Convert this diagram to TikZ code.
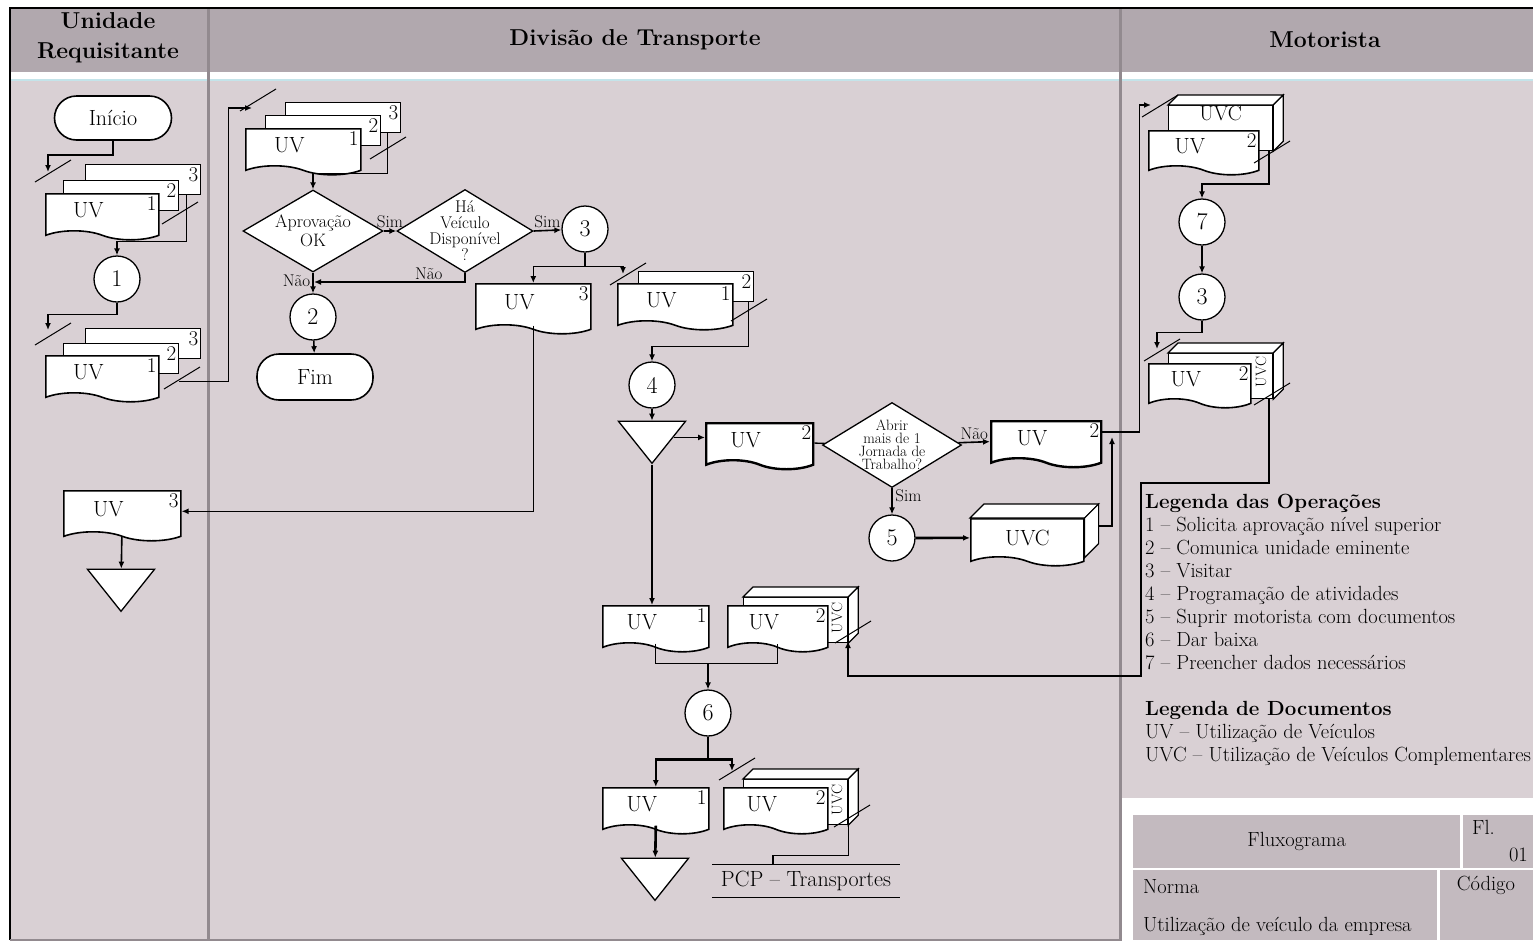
\documentclass[tikz,border=0pt]{standalone}
\usepackage{fontspec}
\usepackage{tikz}
\usetikzlibrary{shapes.geometric,shapes.symbols,arrows.meta}
\definecolor{bodybg}{HTML}{D9D0D4}
\definecolor{headbg}{HTML}{B1A8AE}
\definecolor{lanesep}{HTML}{928A8F}
\definecolor{cellbg}{HTML}{C3BABF}
\definecolor{stripe}{HTML}{C4E4EA}
\newcommand\fs[1]{\fontsize{#1}{#1}\selectfont}
% line-break mark on a flow line
\newcommand\brk[1]{\draw[line width=1pt] (#1) ++(-18,11) -- ++(36,-22);}
% top and side faces of a card box
\newcommand\boxfaces[2]{%
  \draw[line width=1.2pt, fill=white] (#1.north west) -- ++(#2,-#2) -- ([shift={(#2,-#2)}]#1.north east) -- (#1.north east) -- cycle;
  \draw[line width=1.2pt, fill=white] (#1.north east) -- ++(#2,-#2) -- ([shift={(#2,-#2)}]#1.south east) -- (#1.south east) -- cycle;}

\begin{document}
\begin{tikzpicture}[x=1pt, y=-1pt,
  lanehead/.style={font=\bfseries\fontsize{23}{30}\selectfont, align=center},
  doc/.style 2 args={tape, tape bend top=none, tape bend bottom=out and in, tape bend height=9pt,
     draw, fill=white, line width=1.6pt, inner sep=0pt, minimum width=113pt, minimum height=46pt,
     anchor=north west, font=\fs{22},
     label={[font=\fs{22}, xshift=-14pt, yshift=2pt]center:#1},
     label={[font=\fs{21}, anchor=north east, inner sep=3pt]north east:#2}},
  backdoc/.style={draw, fill=white, line width=1.4pt, inner sep=0pt, minimum width=115pt,
     minimum height=30pt, anchor=north west,
     label={[font=\fs{21}, anchor=north east, inner sep=3pt]north east:#1}},
  uvcbox/.style={draw, fill=white, line width=1.2pt, inner sep=0pt,
     minimum width=104pt, minimum height=45pt, anchor=north west},
  rotlbl/.style={font=\fs{15}, rotate=90, inner sep=0pt},
  term/.style={rectangle, rounded corners=22pt, draw, fill=white, line width=1.6pt,
     minimum width=117pt, minimum height=44pt, font=\fs{22}},
  opcirc/.style={circle, draw, fill=white, line width=1.3pt, minimum size=46pt,
     inner sep=0pt, font=\fs{24}},
  decis/.style={diamond, draw, fill=white, line width=1.3pt, inner sep=0pt},
  dtext/.style={align=center, inner sep=0pt},
  arch/.style={isosceles triangle, isosceles triangle stretches, shape border rotate=270,
     draw, fill=white, line width=1.3pt, inner sep=0pt, minimum width=67pt, minimum height=42pt},
  lbl/.style={font=\fs{17}, inner sep=2pt},
  cell/.style={fill=cellbg, anchor=north west, inner sep=0pt, font=\fs{20.5}},
  cellt/.style={font=\fs{20.5}, inner sep=0pt},
  legend/.style={font=\fontsize{20.5}{23}\selectfont, align=left, inner sep=0pt},
  pcp/.style={font=\fs{22}, minimum width=187pt, minimum height=33pt, inner sep=0pt},
  arr/.style={-{Latex[length=7pt,width=6pt]}, line width=1.6pt},
  arrthick/.style={arr, line width=2.6pt},
  flow/.style={line width=1.3pt}
]
\useasboundingbox (0,0) rectangle (1533,943);

% lanes
\fill[bodybg] (10,8) rectangle (1533,940);
\fill[headbg] (10,8) rectangle (1533,72);
\fill[white] (10,72) rectangle (1533,79);
\draw[stripe, line width=2pt] (10,80) -- (1533,80);
\fill[white] (1122,798) rectangle (1533,943);
\draw[lanesep, line width=3pt] (208,8) -- (208,940);
\draw[lanesep, line width=3pt] (1120,8) -- (1120,940);
\draw[line width=2pt] (10,940) -- (10,8) -- (1533,8);
\draw[lanesep, line width=2pt] (10,940) -- (1122,940);

\node[lanehead] (hUni) at (108,38) {Unidade\\Requisitante};
\node[lanehead] (hDiv) at (635,40) {Divisão de Transporte};
\node[lanehead] (hMot) at (1325,40) {Motorista};

% Unidade Requisitante
\node[term] (ini) at (113,118) {Início};
\node[backdoc=3] (s1c) at (85,164) {};
\node[backdoc=2] (s1b) at (63,180) {};
\node[doc={UV}{1}] (s1a) at (45,193) {};
\node[opcirc] (c1) at (117,279) {1};
\node[backdoc=3] (s2c) at (85,328) {};
\node[backdoc=2] (s2b) at (63,343) {};
\node[doc={UV}{1}] (s2a) at (45,355) {};
\node[doc={UV}{3}, minimum width=117pt, minimum height=50pt] (uvr3) at (63,490) {};
\node[arch, anchor=apex] (tri2) at (121,613) {};
\coordinate (in1) at (48,172);
\coordinate (in2) at (48,330);
\coordinate (in3) at (252,108);

% Divisao de Transporte
\node[backdoc=3] (s3c) at (285,102) {};
\node[backdoc=2] (s3b) at (265,115) {};
\node[doc={UV}{1}, minimum width=115pt] (s3a) at (245,128) {};
\node[decis, minimum width=140pt, minimum height=82pt,
  label={[dtext, font=\fontsize{18}{19}\selectfont]center:{Aprovação\\OK}}] (dia1) at (313,231) {};
\node[decis, minimum width=136pt, minimum height=83pt,
  label={[dtext, font=\fontsize{17}{16}\selectfont]center:{Há\\Veículo\\Disponível\\?}}] (dia2) at (465,231) {};
\node[opcirc] (c3) at (585,229) {3};
\node[opcirc] (c2) at (313,317) {2};
\node[term, minimum width=116pt, minimum height=46pt] (fim) at (315,377) {Fim};
\node[doc={UV}{3}, minimum width=115pt, minimum height=50pt] (uv3) at (475,283) {};
\node[backdoc=2] (s4b) at (638,271) {};
\node[doc={UV}{1}, minimum width=115pt] (s4a) at (617,283) {};
\node[opcirc] (c4) at (652,385) {4};
\node[arch, anchor=apex] (tri1) at (652,465) {};
\node[doc={UV}{2}, line width=2.4pt, minimum width=107pt] (uv2a) at (705,422) {};
\node[decis, minimum width=139pt, minimum height=85pt,
  label={[dtext, font=\fontsize{15}{13}\selectfont]center:{Abrir\\mais de 1\\Jornada de\\Trabalho?}}] (dia3) at (892,445) {};
\node[doc={UV}{2}, line width=2.4pt, minimum width=110pt] (uv2b) at (990,420) {};
\node[opcirc] (c5) at (892,538) {5};
\node[doc={}{}, minimum width=113pt, minimum height=47pt] (uvc1) at (970,518) {UVC};
\boxfaces{uvc1}{14}

\node[doc={UV}{1}, minimum width=106pt] (uv1m) at (602,605) {};
\node[uvcbox] (uvcm) at (743,597) {};
\boxfaces{uvcm}{10}
\node[doc={UV}{2}, minimum width=100pt] (uv2m) at (727,605) {};
\node[rotlbl] (uvcmL) at (837,618) {UVC};
\node[opcirc] (c6) at (708,713) {6};
\node[doc={UV}{1}, minimum width=106pt] (uv1b) at (602,787) {};
\node[uvcbox] (uvcb) at (743,779) {};
\boxfaces{uvcb}{10}
\node[doc={UV}{2}, minimum width=104pt] (uv2c) at (723,787) {};
\node[rotlbl] (uvcbL) at (837,800) {UVC};
\node[arch, anchor=apex] (tri3) at (655,902) {};
\node[pcp] (pcp) at (806,881) {PCP – Transportes};
\coordinate (in4) at (623,274);
\coordinate (j2) at (314,282);
\coordinate (j5) at (1112,437);
\coordinate (in7) at (1151,105);
\coordinate (in10) at (732,771);

% Motorista
\node[uvcbox, label={[font=\fs{21}, anchor=north, inner sep=1pt]north:UVC}] (uvcM1) at (1168,105) {};
\boxfaces{uvcM1}{10}
\node[doc={UV}{2}, minimum width=110pt, minimum height=44pt] (uvM1) at (1148,130) {};
\node[opcirc] (c7) at (1202,222) {7};
\node[opcirc] (c3m) at (1202,297) {3};
\node[uvcbox] (uvcM2) at (1168,353) {};
\boxfaces{uvcM2}{10}
\node[doc={UV}{2}, minimum width=102pt, minimum height=44pt] (uvM2) at (1148,363) {};
\node[rotlbl] (uvcM2L) at (1261,372) {UVC};
\coordinate (in8) at (1157,349);
\coordinate (in9) at (848,641);

\node[legend, anchor=north west] (leg) at (1145,494) {\textbf{Legenda das Operações}\\
  1 – Solicita aprovação nível superior\\
  2 – Comunica unidade eminente\\
  3 – Visitar\\
  4 – Programação de atividades\\
  5 – Suprir motorista com documentos\\
  6 – Dar baixa\\
  7 – Preencher dados necessários\\[23pt]
  \textbf{Legenda de Documentos}\\
  UV – Utilização de Veículos\\
  UVC – Utilização de Veículos Complementares};

% title block
\node[cell, minimum width=327pt, minimum height=53pt] (tFlux) at (1133,815) {Fluxograma};
\node[cell, minimum width=70pt, minimum height=53pt] (tFl) at (1463,815) {};
\node[cellt, anchor=north west] (tFlA) at (1472,820) {Fl.};
\node[cellt, anchor=south east] (tFlB) at (1528,862) {01};
\node[cell, minimum width=304pt, minimum height=70pt] (tNorma) at (1133,870) {};
\node[cellt, anchor=west] (tNormaA) at (1143,887) {Norma};
\node[cellt, anchor=west] (tNormaB) at (1143,926) {Utilização de veículo da empresa};
\node[cell, minimum width=93pt, minimum height=70pt] (tCod) at (1440,870) {};
\node[cellt, anchor=north] (tCodA) at (1486,876) {Código};

% connectors
\draw[arr] (ini.south) -- ++(0,14) -| (in1);
\brk{53,171}
\draw[arr] ([xshift=-15pt]s1c.south east) -- ++(0,46) -| (c1);
\brk{180,213}
\draw[arr] (c1.south) -- ++(0,12) -| (in2);
\brk{53,334}
\draw[arr] ([yshift=-7pt]s2b.south east) -- ++(49,0) |- (in3);
\brk{182,378}
\brk{258,100}
\draw[arr] ([xshift=-14pt]s3c.south east) -- ++(0,40) -| (dia1);
\brk{388,148}
\draw[arr] (dia1.east) -- node[lbl, above] {Sim} (dia2.west);
\draw[arr] (dia2.east) -- node[lbl, above] {Sim} (c3);
\draw[arr] (dia1.south) -- node[lbl, left, pos=0.4] {Não} (c2);
\draw[arr] (dia2.south) |- node[lbl, above, pos=0.62] {Não} (j2);
\draw[arr] (c2) -- (fim);
\draw[arr] (c3.south) -- ++(0,14) -| (uv3.north);
\draw[arr] (c3.south) -- ++(0,14) -| (in4);
\brk{628,274}
\draw[arr] ([xshift=-6pt]s4b.south east) -- ++(0,44) -| (c4);
\brk{749,310}
\draw[arr] (c4) -- (tri1);
\draw[arr] (tri1) -- (tri1 -| uv2a.west);
\draw[flow] (uv2a) -- (dia3);
\draw[arr] (dia3) -- node[lbl, above] {Não} (uv2b);
\draw[arrthick] (dia3) -- node[lbl, right, pos=0.3] {Sim} (c5);
\draw[arrthick] (c5) -- (uvc1);
\draw[arr] ([xshift=14pt, yshift=12pt]uvc1.east) -| (j5);
\draw[arr] ([yshift=8pt]uv2b.east) -- ++(37,0) |- (in7);
\brk{1160,106}
\draw[arr] ([xshift=-4pt]uvcM1.south east) -- ++(0,33) -| (c7);
\brk{1272,152}
\draw[arr] (c7) -- (c3m);
\draw[arr] (c3m.south) -- ++(0,12) -| (in8);
\brk{1162,350}
\draw[arr] ([xshift=-4pt]uvcM2.south east) -- ++(0,84) -- ++(-128,0) -- ++(0,193) -| (in9);
\brk{1272,394}
\brk{853,632}
\draw[flow] (uv1m.south) -- ++(0,20) -| (uv2m.south);
\path ([yshift=-20pt]uv1m.south) coordinate (m6);
\draw[arr] (m6 -| c6) -- (c6);
\draw[arrthick] (c6.south) -- ++(0,23) -| (uv1b.north);
\draw[arrthick] (c6.south) -- ++(0,23) -| (in10);
\brk{737,769}
\draw[arrthick] (uv1b.south) -- (tri3);
\draw[flow] (uvcb.south east) -- ++(0,30) -| ([xshift=-33pt]pcp.north);
\brk{852,816}
\draw[line width=1.2pt] (pcp.north west) -- (pcp.north east) (pcp.south west) -- (pcp.south east);
\draw[arr] (uv3.south) |- (uvr3.east);
\draw[arr] (uvr3) -- (tri2);
\draw[arr] (tri1.apex) -- (tri1.apex |- uv1m.north);
\end{tikzpicture}
\end{document}
